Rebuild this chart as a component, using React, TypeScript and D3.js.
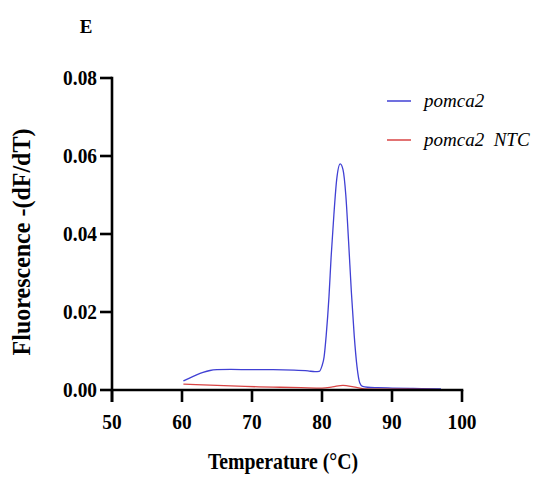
import React from "react";
import * as d3 from "d3";

const xTicks = [50, 60, 70, 80, 90, 100];
const yTicks = [0, 0.02, 0.04, 0.06, 0.08];
const yTickLabels = ["0.00", "0.02", "0.04", "0.06", "0.08"];

const seriesNames = ["pomca2", "pomca2  NTC"];
const seriesColors = ["#4040d4", "#d84444"];

const blueTemp = [60.2, 61, 62, 63, 64, 65, 67, 70, 73, 76, 78, 79, 79.6, 80, 80.3, 80.6, 81, 81.3, 81.7, 82.1, 82.6, 83.0, 83.4, 83.8, 84.2, 84.6, 85.0, 85.4, 85.8, 86.5, 88, 90, 93, 97];
const blueVal = [0.0023, 0.003, 0.0038, 0.0045, 0.005, 0.0052, 0.0053, 0.0052, 0.0052, 0.0051, 0.0049, 0.0047, 0.0048, 0.0062, 0.0085, 0.014, 0.024, 0.034, 0.045, 0.054, 0.058, 0.0565, 0.05, 0.038, 0.025, 0.014, 0.006, 0.0018, 0.0009, 0.0007, 0.0006, 0.0005, 0.0004, 0.0003];

const redTemp = [60.2, 62, 65, 68, 71, 74, 77, 80, 81.5, 83, 84.5, 86, 88, 92, 97];
const redVal = [0.0015, 0.0014, 0.0012, 0.001, 0.0008, 0.0007, 0.0006, 0.0005, 0.0008, 0.0012, 0.0008, 0.0003, 0.0002, 0.0002, 0.0001];

const FONT = "'Liberation Serif', 'Times New Roman', serif";

export default function App() {
  const x = d3.scaleLinear().domain([50, 100]).range([112, 462]);
  const y = d3.scaleLinear().domain([0, 0.08]).range([390, 78]);
  const line = d3
    .line<[number, number]>()
    .x((d) => x(d[0]))
    .y((d) => y(d[1]))
    .curve(d3.curveMonotoneX);
  const blue = blueTemp.map((t, i) => [t, blueVal[i]] as [number, number]);
  const red = redTemp.map((t, i) => [t, redVal[i]] as [number, number]);
  const series = [blue, red];
  const axisW = 2.6;

  return (
    <svg width={537} height={478} style={{ position: "absolute", left: 0, top: 0, background: "#fff" }}>
      <rect x={0} y={0} width={537} height={478} fill="#fff" />
      <text x={86} y={33} fontFamily={FONT} fontWeight="bold" fontSize={19} textAnchor="middle">E</text>

      {/* curves */}
      {series.map((s, i) => (
        <path key={i} d={line(s) || ""} fill="none" stroke={seriesColors[i]} strokeWidth={1.3} />
      ))}

      {/* y axis */}
      <line x1={x(50)} x2={x(50)} y1={y(0.08) - axisW / 2} y2={402} stroke="#000" strokeWidth={axisW} />
      {yTicks.map((t, i) => (
        <g key={t}>
          <line x1={x(50) - 12} x2={x(50)} y1={y(t)} y2={y(t)} stroke="#000" strokeWidth={axisW} />
          <text
            transform={`translate(${x(50) - 15},${y(t) + 7}) scale(0.88,1)`}
            fontFamily={FONT}
            fontWeight="bold"
            fontSize={22}
            textAnchor="end"
          >
            {yTickLabels[i]}
          </text>
        </g>
      ))}

      {/* x axis */}
      <line x1={x(50)} x2={x(100) + axisW / 2} y1={y(0)} y2={y(0)} stroke="#000" strokeWidth={axisW} />
      {xTicks.map((t) => (
        <g key={t}>
          <line x1={x(t)} x2={x(t)} y1={y(0)} y2={402} stroke="#000" strokeWidth={axisW} />
          <text
            transform={`translate(${x(t)},${429}) scale(0.88,1)`}
            fontFamily={FONT}
            fontWeight="bold"
            fontSize={22}
            textAnchor="middle"
          >
            {t}
          </text>
        </g>
      ))}

      <text
        transform={`translate(${283},${469}) scale(0.86,1)`}
        fontFamily={FONT}
        fontWeight="bold"
        fontSize={23}
        textAnchor="middle"
      >
        Temperature (°C)
      </text>

      <text
        transform={`translate(${30},${242}) rotate(-90) scale(0.96,1)`}
        fontFamily={FONT}
        fontWeight="bold"
        fontSize={25}
        textAnchor="middle"
      >
        Fluorescence -(dF/dT)
      </text>

      {/* legend */}
      {seriesNames.map((n, i) => (
        <g key={n}>
          <line x1={387} x2={411} y1={101 + i * 39} y2={101 + i * 39} stroke={seriesColors[i]} strokeWidth={1.5} />
          <text
            x={424}
            y={107 + i * 39}
            fontFamily={FONT}
            fontStyle="italic"
            fontSize={19}
            style={{ whiteSpace: "pre" }}
          >
            {n}
          </text>
        </g>
      ))}
    </svg>
  );
}
